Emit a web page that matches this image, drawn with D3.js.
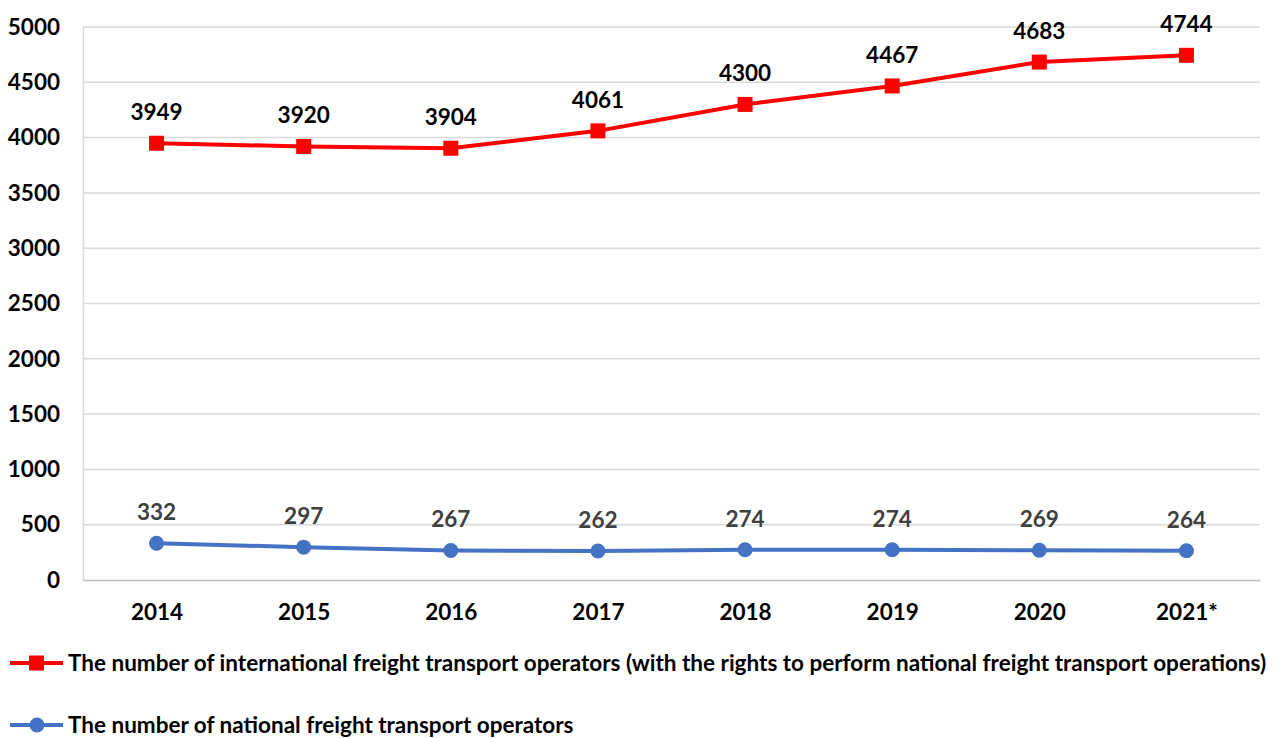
<!DOCTYPE html>
<html>
<head>
<meta charset="utf-8">
<script src="https://cdn.jsdelivr.net/npm/d3@7"></script>
<style>
  body { margin: 0; background: #fff; }
  text { font-family: Lato, "Open Sans", sans-serif; font-weight: bold; }
</style>
</head>
<body>
<div class="chart"></div>
<script>
// chart data
var years = ["2014", "2015", "2016", "2017", "2018", "2019", "2020", "2021*"];
var international = [3949, 3920, 3904, 4061, 4300, 4467, 4683, 4744];
var national = [332, 297, 267, 262, 274, 274, 269, 264];
var yTicks = [0, 500, 1000, 1500, 2000, 2500, 3000, 3500, 4000, 4500, 5000];
var seriesNames = [
  "The number of international freight transport operators (with the rights to perform national freight transport operations)",
  "The number of national freight transport operators"
];

var svgWidth = 1280;
var svgHeight = 738;
var fontSize = "22.5px";

var chartMargin = { top: 27, right: 20, bottom: 158, left: 83 };
var chartWidth = svgWidth - chartMargin.left - chartMargin.right;
var chartHeight = svgHeight - chartMargin.top - chartMargin.bottom;

var svg = d3.select(".chart")
  .append("svg")
  .attr("width", svgWidth)
  .attr("height", svgHeight);

var chartGroup = svg.append("g")
  .attr("transform", `translate(${chartMargin.left}, ${chartMargin.top})`);

var xScale = d3.scalePoint()
  .domain(years)
  .range([0, chartWidth])
  .padding(0.5);

var yScale = d3.scaleLinear()
  .domain([0, 5000])
  .range([chartHeight, 0]);

// gridlines
chartGroup.selectAll(".grid")
  .data(yTicks.filter(d => d > 0))
  .enter()
  .append("line")
  .attr("x1", 0)
  .attr("x2", chartWidth)
  .attr("y1", d => yScale(d))
  .attr("y2", d => yScale(d))
  .attr("stroke", "#d9d9d9")
  .attr("stroke-width", 1.5);

// left axis
var leftAxis = d3.axisLeft(yScale).tickValues(yTicks).tickFormat(d3.format("d")).tickSize(0).tickPadding(23);
var yAxisG = chartGroup.append("g").call(leftAxis);
yAxisG.select(".domain").attr("stroke", "#d9d9d9").attr("stroke-width", 1.5);
yAxisG.selectAll("text")
  .style("font-size", fontSize)
  .attr("fill", "#000")
  .attr("font-family", "Lato, sans-serif")
  .attr("font-weight", "bold");

// bottom axis
var bottomAxis = d3.axisBottom(xScale).tickSize(0).tickPadding(24);
var xAxisG = chartGroup.append("g")
  .attr("transform", `translate(0, ${chartHeight})`)
  .call(bottomAxis);
xAxisG.select(".domain").attr("stroke", "#bfbfbf").attr("stroke-width", 1.5);
xAxisG.selectAll("text")
  .style("font-size", fontSize)
  .attr("fill", "#000")
  .attr("font-family", "Lato, sans-serif")
  .attr("font-weight", "bold");

var line = d3.line()
  .x((d, i) => xScale(years[i]))
  .y(d => yScale(d));

// international series (red, squares)
chartGroup.append("path")
  .datum(international)
  .attr("d", line)
  .attr("fill", "none")
  .attr("stroke", "#ff0000")
  .attr("stroke-width", 4)
  .attr("stroke-linejoin", "round");

chartGroup.selectAll(".sq")
  .data(international)
  .enter()
  .append("rect")
  .attr("x", (d, i) => xScale(years[i]) - 7.5)
  .attr("y", d => yScale(d) - 7.5)
  .attr("width", 15)
  .attr("height", 15)
  .attr("fill", "#ff0000");

chartGroup.selectAll(".lblR")
  .data(international)
  .enter()
  .append("text")
  .attr("x", (d, i) => xScale(years[i]))
  .attr("y", d => yScale(d) - 23)
  .attr("text-anchor", "middle")
  .style("font-size", fontSize)
  .attr("fill", "#000")
  .text(d => d);

// national series (blue, circles)
chartGroup.append("path")
  .datum(national)
  .attr("d", line)
  .attr("fill", "none")
  .attr("stroke", "#4472c4")
  .attr("stroke-width", 4)
  .attr("stroke-linejoin", "round");

chartGroup.selectAll(".dot")
  .data(national)
  .enter()
  .append("circle")
  .attr("cx", (d, i) => xScale(years[i]))
  .attr("cy", d => yScale(d))
  .attr("r", 7.5)
  .attr("fill", "#4472c4");

chartGroup.selectAll(".lblB")
  .data(national)
  .enter()
  .append("text")
  .attr("x", (d, i) => xScale(years[i]))
  .attr("y", d => yScale(d) - 23)
  .attr("text-anchor", "middle")
  .style("font-size", fontSize)
  .attr("fill", "#404040")
  .text(d => d);

// legend
var legend = svg.append("g");
var legendRows = [
  { name: seriesNames[0], color: "#ff0000", shape: "square", y: 663 },
  { name: seriesNames[1], color: "#4472c4", shape: "circle", y: 725 }
];
legendRows.forEach(function (row) {
  legend.append("line")
    .attr("x1", 10).attr("x2", 63)
    .attr("y1", row.y).attr("y2", row.y)
    .attr("stroke", row.color).attr("stroke-width", 4);
  if (row.shape === "square") {
    legend.append("rect")
      .attr("x", 29).attr("y", row.y - 7.5)
      .attr("width", 15).attr("height", 15)
      .attr("fill", row.color);
  } else {
    legend.append("circle")
      .attr("cx", 37).attr("cy", row.y).attr("r", 7.5)
      .attr("fill", row.color);
  }
  legend.append("text")
    .attr("x", 68)
    .attr("y", row.y)
    .attr("dy", "0.35em")
    .style("font-size", fontSize)
    .attr("fill", "#000")
    .text(row.name);
});
</script>
</body>
</html>
